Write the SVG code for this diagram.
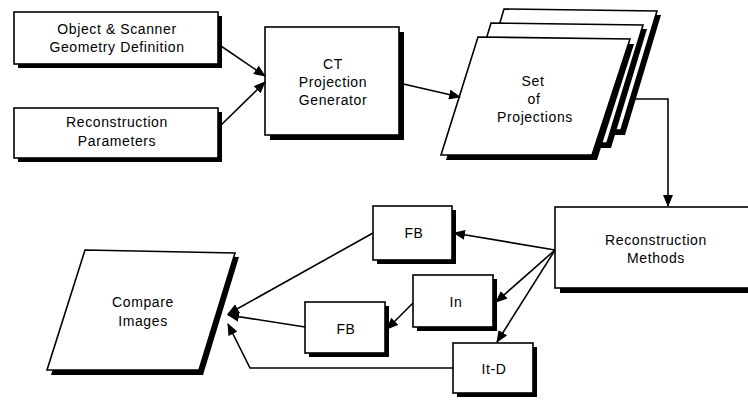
<svg xmlns="http://www.w3.org/2000/svg" width="748" height="401" viewBox="0 0 748 401">
<defs>
<marker id="ah" viewBox="0 0 12 10" refX="11" refY="5" markerWidth="12" markerHeight="10" markerUnits="userSpaceOnUse" orient="auto">
<path d="M0,0 L12,5 L0,10 z" fill="#000"/>
</marker>
</defs>
<style>
.b{fill:#fff;stroke:#000;stroke-width:1.6}
.s{fill:#000}
.t{font-family:"Liberation Sans",Arial,sans-serif;font-size:14px;letter-spacing:0.6px;fill:#000;text-anchor:middle}
.c{fill:none;stroke:#000;stroke-width:1.6}
</style>
<rect width="748" height="401" fill="#fff"/>

<g id="geom">
<rect class="s" x="18" y="16" width="204" height="52"/>
<rect class="b" x="14" y="12" width="204" height="52"/>
<text class="t" x="117" y="34">Object &amp; Scanner</text>
<text class="t" x="117" y="52">Geometry Definition</text>
</g>

<g id="params">
<rect class="s" x="18" y="112" width="204" height="50"/>
<rect class="b" x="14" y="108" width="204" height="50"/>
<text class="t" x="117" y="127">Reconstruction</text>
<text class="t" x="117" y="146">Parameters</text>
</g>

<g id="ct">
<rect class="s" x="270" y="32" width="134" height="108"/>
<rect class="b" x="265" y="27" width="134" height="108"/>
<text class="t" x="333" y="69">CT</text>
<text class="t" x="333" y="87">Projection</text>
<text class="t" x="333" y="105">Generator</text>
</g>

<g id="projections">
<polygon class="s" points="508,13 661,15 625,135 472,135"/>
<polygon class="b" points="504,9 657,11 621,130 468,130"/>
<polygon class="s" points="495,27 647,29 611,148 459,148"/>
<polygon class="b" points="491,23 643,25 607,143 455,143"/>
<polygon class="s" points="482,42 634,44 597,160 446,160"/>
<polygon class="b" points="478,37 630,39 592,155 441,155"/>
<text class="t" x="533" y="86">Set</text>
<text class="t" x="534" y="104">of</text>
<text class="t" x="535" y="122">Projections</text>
</g>

<g id="methods">
<rect class="s" x="560" y="212" width="200" height="81"/>
<rect class="b" x="555" y="207" width="200" height="81"/>
<text class="t" x="656" y="245">Reconstruction</text>
<text class="t" x="656" y="263">Methods</text>
</g>

<g id="fb1">
<rect class="s" x="377" y="210" width="79" height="54"/>
<rect class="b" x="373" y="206" width="79" height="54"/>
<text class="t" x="414" y="238">FB</text>
</g>

<g id="in">
<rect class="s" x="417" y="279" width="80" height="52"/>
<rect class="b" x="413" y="275" width="80" height="52"/>
<text class="t" x="456" y="307">In</text>
</g>

<g id="fb2">
<rect class="s" x="309" y="306" width="80" height="51"/>
<rect class="b" x="305" y="302" width="80" height="51"/>
<text class="t" x="346" y="334">FB</text>
</g>

<g id="itd">
<rect class="s" x="457" y="347" width="80" height="50"/>
<rect class="b" x="453" y="343" width="80" height="50"/>
<text class="t" x="494" y="374">It-D</text>
</g>

<g id="compare">
<polygon class="s" points="89,254 239,257 203,375 51,375"/>
<polygon class="b" points="85,250 235,253 199,370 47,370"/>
<text class="t" x="143" y="307">Compare</text>
<text class="t" x="143" y="326">Images</text>
</g>

<g id="connectors">
<line class="c" x1="218" y1="44" x2="265" y2="76" marker-end="url(#ah)"/>
<line class="c" x1="218" y1="128" x2="265" y2="82" marker-end="url(#ah)"/>
<line class="c" x1="399" y1="83" x2="460" y2="97" marker-end="url(#ah)"/>
<polyline class="c" points="635,99 668,99 668,206" marker-end="url(#ah)"/>
<line class="c" x1="555" y1="250" x2="454" y2="233" marker-end="url(#ah)"/>
<line class="c" x1="555" y1="250" x2="496" y2="302" marker-end="url(#ah)"/>
<line class="c" x1="555" y1="250" x2="497" y2="342" marker-end="url(#ah)"/>
<line class="c" x1="413" y1="303" x2="387" y2="329" marker-end="url(#ah)"/>
<line class="c" x1="373" y1="233" x2="228" y2="314" marker-end="url(#ah)"/>
<line class="c" x1="305" y1="327" x2="228" y2="315" marker-end="url(#ah)"/>
<polyline class="c" points="453,368 250,368 228,324" marker-end="url(#ah)"/>
</g>
</svg>
